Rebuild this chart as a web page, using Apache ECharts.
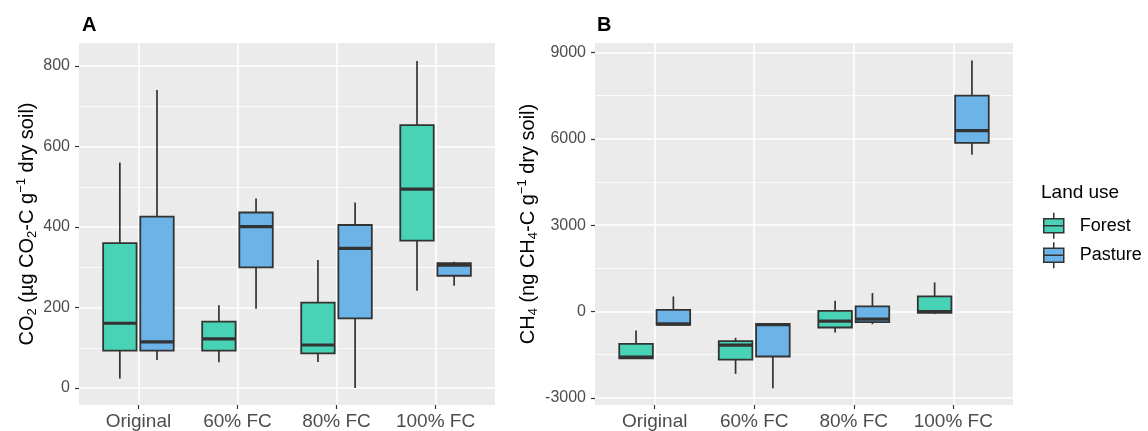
<!DOCTYPE html>
<html>
<head>
<meta charset="utf-8">
<script src="https://cdn.jsdelivr.net/npm/echarts@6.0.0/dist/echarts.min.js"></script>
<style>
  html, body { margin: 0; padding: 0; background: #fff; }
  #chart { width: 1148px; height: 431px; }
</style>
</head>
<body>
<div id="chart"></div>
<script>
// categories and boxplot stats [min, Q1, median, Q3, max]
let categories = ['Original', '60% FC', '80% FC', '100% FC'];
let landUse = ['Forest', 'Pasture'];

let co2Forest = [[24, 93, 161, 360, 560], [64, 93, 122, 165, 206], [65, 86, 107, 212, 318], [242, 366, 494, 653, 812]];
let co2Pasture = [[70, 93, 115, 426, 740], [197, 300, 401, 436, 471], [0, 173, 347, 405, 461], [254, 279, 305, 310, 314]];

let ch4Forest = [[-1633, -1633, -1587, -1123, -660], [-2167, -1670, -1170, -1030, -915], [-730, -556, -335, 24, 372], [-90, -45, 0, 522, 1009]];
let ch4Pasture = [[-463, -463, -428, 58, 522], [-2665, -1565, -455, -428, -428], [-440, -370, -265, 174, 640], [5450, 5857, 6285, 7502, 8720]];

let co2Ticks = [0, 200, 400, 600, 800];
let co2Minor = [100, 300, 500, 700];
let ch4Ticks = [-3000, 0, 3000, 6000, 9000];
let ch4Minor = [-1500, 1500, 4500, 7500];
let xTicks = [1, 2, 3, 4];

let colors = ['#48D3B7', '#6CB4E8'];
let font = 'Liberation Sans, Arial, sans-serif';

// ggplot dodge: boxes at +-0.1875, width 0.3375 of a category step
let DODGE = 0.1875;
let BOX_W = 0.3375;

function boxRenderer(side, color) {
    return function (params, api) {
        let x = api.value(0) + side * DODGE;
        let half = api.size([BOX_W, 0])[0] / 2;
        let cx = api.coord([x, 0])[0];
        let yMin = api.coord([x, api.value(1)])[1];
        let yQ1 = api.coord([x, api.value(2)])[1];
        let yMed = api.coord([x, api.value(3)])[1];
        let yQ3 = api.coord([x, api.value(4)])[1];
        let yMax = api.coord([x, api.value(5)])[1];
        let line = { stroke: '#333333', lineWidth: 1.7 };
        return {
            type: 'group',
            children: [
                { type: 'line', shape: { x1: cx, y1: yMax, x2: cx, y2: yQ3 }, style: line },
                { type: 'line', shape: { x1: cx, y1: yQ1, x2: cx, y2: yMin }, style: line },
                { type: 'rect', shape: { x: cx - half, y: yQ3, width: half * 2, height: yQ1 - yQ3 },
                  style: { fill: color, stroke: '#333333', lineWidth: 1.8 } },
                { type: 'line', shape: { x1: cx - half, y1: yMed, x2: cx + half, y2: yMed },
                  style: { stroke: '#333333', lineWidth: 3.2 } }
            ]
        };
    };
}

function toData(stats) {
    return stats.map((s, i) => [i + 1].concat(s));
}

function makeX(gridIndex) {
    return {
        type: 'value', gridIndex: gridIndex, min: 0.4, max: 4.6,
        axisLine: { show: false, onZero: false },
        axisTick: { show: true, length: 4, customValues: xTicks, lineStyle: { color: '#333333', width: 1.2 } },
        axisLabel: {
            customValues: xTicks, margin: 7, fontSize: 19, color: '#4D4D4D', fontFamily: font,
            formatter: v => categories[Math.round(v) - 1]
        },
        splitLine: { show: true, lineStyle: { color: '#FFFFFF', width: 1.6 } }
    };
}

let yNameStyle = {
    fontSize: 20, color: '#000000', fontFamily: font, lineHeight: 24,
    rich: {
        sub: { fontSize: 13, lineHeight: 14, verticalAlign: 'bottom', color: '#000000', fontFamily: font },
        sup: { fontSize: 13, lineHeight: 14, verticalAlign: 'top', color: '#000000', fontFamily: font }
    }
};

function makeY(gridIndex, min, max, ticks, name, nameGap) {
    return {
        type: 'value', gridIndex: gridIndex, min: min, max: max,
        name: name, nameLocation: 'middle', nameGap: nameGap, nameRotate: 90,
        nameTextStyle: yNameStyle,
        axisLine: { show: false, onZero: false },
        axisTick: { show: true, length: 4, customValues: ticks, lineStyle: { color: '#333333', width: 1.2 } },
        axisLabel: {
            customValues: ticks, margin: 9, fontSize: 16, color: '#4D4D4D', fontFamily: font,
            formatter: v => String(v)
        },
        splitLine: { show: true, lineStyle: { color: '#FFFFFF', width: 1.6 } }
    };
}

function makeMinorY(gridIndex, min, max, ticks) {
    return {
        type: 'value', gridIndex: gridIndex, min: min, max: max, position: 'left',
        axisLine: { show: false, onZero: false },
        axisTick: { show: false, customValues: ticks },
        axisLabel: { show: false, customValues: ticks },
        splitLine: { show: true, lineStyle: { color: '#FFFFFF', width: 0.8 } }
    };
}

function makeSeries(name, stats, side, color, gridIndex) {
    return {
        type: 'custom', name: name,
        xAxisIndex: gridIndex, yAxisIndex: gridIndex * 2,
        itemStyle: { color: color },
        encode: { x: 0, y: [1, 2, 3, 4, 5] },
        renderItem: boxRenderer(side, color),
        data: toData(stats),
        z: 5
    };
}

let option = {
    animation: false,
    backgroundColor: '#FFFFFF',
    textStyle: { fontFamily: font },
    title: [
        { text: 'A', left: 77, top: 10, textStyle: { fontSize: 20, fontWeight: 'bold', color: '#000', fontFamily: font } },
        { text: 'B', left: 592, top: 10, textStyle: { fontSize: 20, fontWeight: 'bold', color: '#000', fontFamily: font } },
        { text: 'Land use', left: 1036, top: 178, textStyle: { fontSize: 19, fontWeight: 'normal', color: '#000', fontFamily: font } }
    ],
    legend: {
        orient: 'vertical', left: 1043, top: 212, padding: 0,
        data: landUse,
        itemWidth: 22, itemHeight: 26, itemGap: 2,
        icon: 'path://M1,6 L21,6 L21,20 L1,20 Z M1,13 L21,13 M11,0 L11,6 M11,20 L11,26',
        itemStyle: { borderColor: '#333333', borderWidth: 1.5 },
        textStyle: { fontSize: 18, color: '#000', fontFamily: font, padding: [0, 0, 0, 10] },
        selectedMode: false
    },
    grid: [
        { left: 79, top: 43, width: 416, height: 362, show: true, backgroundColor: '#EBEBEB', borderWidth: 0 },
        { left: 595, top: 43, width: 418, height: 362, show: true, backgroundColor: '#EBEBEB', borderWidth: 0 }
    ],
    xAxis: [makeX(0), makeX(1)],
    yAxis: [
        makeY(0, -42, 857, co2Ticks, 'CO{sub|2} (µg CO{sub|2}-C g{sup|−1} dry soil)', 40),
        makeMinorY(0, -42, 857, co2Minor),
        makeY(1, -3250, 9330, ch4Ticks, 'CH{sub|4} (ng CH{sub|4}-C g{sup|−1} dry soil)', 55),
        makeMinorY(1, -3250, 9330, ch4Minor)
    ],
    series: [
        makeSeries(landUse[0], co2Forest, -1, colors[0], 0),
        makeSeries(landUse[1], co2Pasture, 1, colors[1], 0),
        makeSeries(landUse[0], ch4Forest, -1, colors[0], 1),
        makeSeries(landUse[1], ch4Pasture, 1, colors[1], 1)
    ]
};

let chart = echarts.init(document.getElementById('chart'));
chart.setOption(option);
</script>
</body>
</html>
